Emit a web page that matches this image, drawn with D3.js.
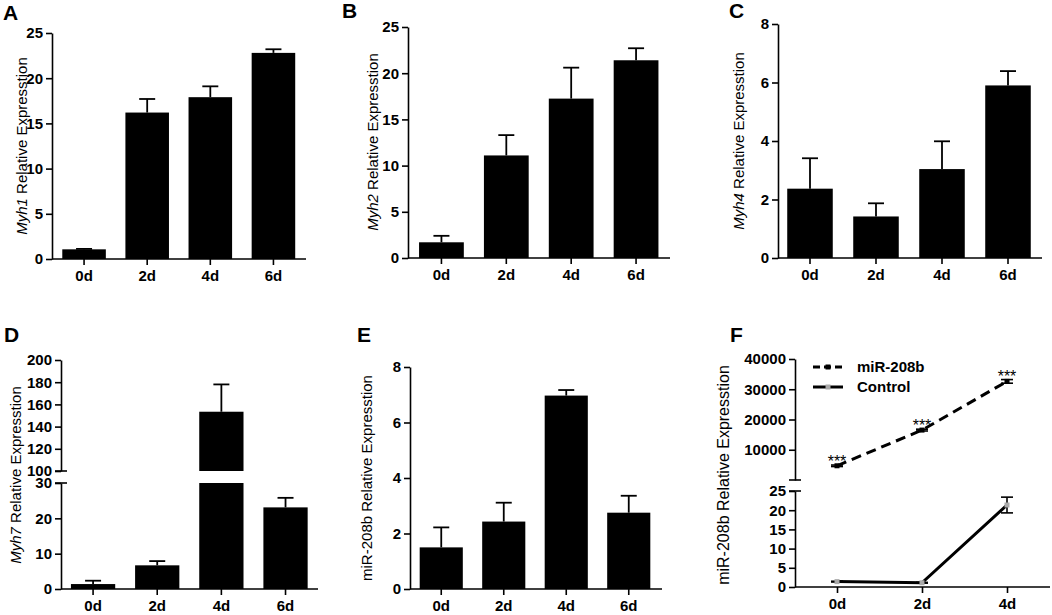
<!DOCTYPE html>
<html>
<head>
<meta charset="utf-8">
<script src="https://cdn.jsdelivr.net/npm/d3@7"></script>
<style>
body { margin: 0; background: #fff; }
svg { display: block; }
</style>
</head>
<body>
<svg id="chart" width="1052" height="615"></svg>
<script>
// categories
var days = ["0d", "2d", "4d", "6d"];
var daysF = ["0d", "2d", "4d"];

// panel values (mean, upper error)
var myh1Mean = [1.07, 16.2, 17.9, 22.8];
var myh1Err  = [0.05, 1.5, 1.2, 0.4];
var myh2Mean = [1.7, 11.1, 17.25, 21.4];
var myh2Err  = [0.7, 2.2, 3.35, 1.3];
var myh4Mean = [2.37, 1.42, 3.04, 5.9];
var myh4Err  = [1.04, 0.45, 0.95, 0.49];
var myh7Mean = [1.4, 6.7, 153.4, 23.1];
var myh7Err  = [0.95, 1.2, 24.6, 2.7];
var mirMean  = [1.5, 2.43, 6.97, 2.75];
var mirErr   = [0.72, 0.68, 0.2, 0.61];
var treatMean = [4700, 16500, 32600];
var treatErr  = [250, 300, 600];
var ctrlMean  = [1.4, 1.1, 21.35];
var ctrlErr   = [0.1, 0.1, 2.05];

// tick values
var ticks25 = [0, 5, 10, 15, 20, 25];
var ticks8 = [0, 2, 4, 6, 8];
var ticksDLow = [0, 10, 20, 30];
var ticksDHigh = [100, 120, 140, 160, 180, 200];
var ticksFLow = [0, 5, 10, 15, 20, 25];
var ticksFHigh = [10000, 20000, 30000, 40000];

var FONT = "'Liberation Sans', Arial, sans-serif";
var svg = d3.select("#chart").style("font-family", FONT);

function styleAxis(a) {
    a.attr("font-family", FONT);
    a.selectAll("text").style("font-size", "15px").style("font-weight", "bold")
        .style("font-family", FONT).attr("fill", "#000");
    a.selectAll("line, path").attr("stroke", "#000").attr("stroke-width", 1.6);
}

function letter(txt, x, y) {
    svg.append("text").attr("x", x).attr("y", y)
        .style("font-size", "21px").style("font-weight", "bold")
        .text(txt);
}

function yTitle(x, y, italic, rest, size, weight) {
    var t = svg.append("text")
        .attr("transform", "translate(" + x + "," + y + ") rotate(-90)")
        .attr("text-anchor", "middle")
        .attr("dy", "0.35em")
        .style("font-size", size + "px")
        .style("font-weight", weight || "normal");
    if (italic) t.append("tspan").style("font-style", "italic").text(italic);
    t.append("tspan").text(rest);
}

function breakStub(g, x, y) {
    g.append("line").attr("x1", x - 6).attr("x2", x + 6)
        .attr("y1", y).attr("y2", y)
        .attr("stroke", "#000").attr("stroke-width", 1.6);
}

function drawBars(p) {
    var g = svg.append("g");
    var x = d3.scaleBand().domain(p.cats).range(p.band)
        .paddingInner(0.31).paddingOuter(0.155);

    p.segments.forEach(function(s) {
        s.y = d3.scaleLinear().domain(s.domain).range(s.range);
        g.append("g").attr("transform", "translate(" + p.axisX + ",0)")
            .call(d3.axisLeft(s.y).tickValues(s.ticks).tickSize(6).tickSizeOuter(0).tickPadding(3))
            .call(styleAxis);
        if (s.stubs) s.stubs.forEach(function(v) { breakStub(g, p.axisX, s.y(v)); });
    });

    // bars, split across segments
    p.cats.forEach(function(c, i) {
        var m = p.means[i];
        p.segments.forEach(function(s) {
            var lo = s.domain[0], hi = s.domain[1];
            var top = Math.min(m, hi);
            if (top > lo) {
                g.append("rect")
                    .attr("x", x(c)).attr("width", x.bandwidth())
                    .attr("y", s.y(top)).attr("height", s.y(lo) - s.y(top))
                    .attr("fill", "#000");
            }
            if (m >= lo && m <= hi) {
                var cx = x(c) + x.bandwidth() / 2;
                var e = m + p.errs[i];
                g.append("line").attr("x1", cx).attr("x2", cx)
                    .attr("y1", s.y(m)).attr("y2", s.y(e))
                    .attr("stroke", "#000").attr("stroke-width", 1.8);
                g.append("line").attr("x1", cx - 8).attr("x2", cx + 8)
                    .attr("y1", s.y(e)).attr("y2", s.y(e))
                    .attr("stroke", "#000").attr("stroke-width", 1.8);
            }
        });
    });

    // x axis
    g.append("line").attr("x1", p.axisX).attr("x2", p.axisRight)
        .attr("y1", p.baseY).attr("y2", p.baseY)
        .attr("stroke", "#000").attr("stroke-width", 1.6);
    g.append("g").attr("transform", "translate(0," + p.baseY + ")")
        .call(d3.axisBottom(x).tickSize(6).tickPadding(5))
        .call(function(a) { a.select(".domain").remove(); })
        .call(styleAxis);
}

// A
drawBars({cats: days, means: myh1Mean, errs: myh1Err, axisX: 52, axisRight: 306, baseY: 259,
    band: [52.5, 305], segments: [{domain: [0, 25], range: [259, 33], ticks: ticks25}]});
letter("A", 3, 20);
yTitle(22, 146, "Myh1", " Relative Expresstion", 15);

// B
drawBars({cats: days, means: myh2Mean, errs: myh2Err, axisX: 408, axisRight: 670, baseY: 258,
    band: [409, 668.5], segments: [{domain: [0, 25], range: [258, 27], ticks: ticks25}]});
letter("B", 342, 18);
yTitle(373, 142, "Myh2", " Relative Expresstion", 15);

// C
drawBars({cats: days, means: myh4Mean, errs: myh4Err, axisX: 778, axisRight: 1042, baseY: 258,
    band: [777, 1041], segments: [{domain: [0, 8], range: [258, 24], ticks: ticks8}]});
letter("C", 729, 18);
yTitle(739, 141, "Myh4", " Relative Expresstion", 15);

// D (broken axis)
drawBars({cats: days, means: myh7Mean, errs: myh7Err, axisX: 61, axisRight: 318, baseY: 589,
    band: [61, 317.6], segments: [
        {domain: [0, 30], range: [589, 483], ticks: ticksDLow, stubs: [30]},
        {domain: [100, 200], range: [471, 360], ticks: ticksDHigh, stubs: [100]}
    ]});
letter("D", 4, 342);
yTitle(16, 475, "Myh7", " Relative Expresstion", 15);

// E
drawBars({cats: days, means: mirMean, errs: mirErr, axisX: 410, axisRight: 662, baseY: 589,
    band: [410, 660], segments: [{domain: [0, 8], range: [589, 367], ticks: ticks8}]});
letter("E", 357, 342);
yTitle(367, 478, null, "miR-208b Relative Expresstion", 15);

// F (line chart, broken axis)
(function() {
    var g = svg.append("g");
    var axisX = 795, baseY = 587;
    var x = d3.scalePoint().domain(daysF).range([837, 1007]);
    var yLow = d3.scaleLinear().domain([0, 25]).range([587, 491]);
    var yHigh = d3.scaleLinear().domain([0, 40000]).range([480, 359]);

    g.append("g").attr("transform", "translate(" + axisX + ",0)")
        .call(d3.axisLeft(yLow).tickValues(ticksFLow).tickSize(6).tickSizeOuter(0).tickPadding(3))
        .call(styleAxis);
    g.append("g").attr("transform", "translate(" + axisX + ",0)")
        .call(d3.axisLeft(yHigh).tickValues(ticksFHigh).tickFormat(d3.format("d"))
            .tickSize(6).tickSizeOuter(0).tickPadding(3))
        .call(styleAxis);
    breakStub(g, axisX, yLow(25));
    breakStub(g, axisX, yHigh(0));

    g.append("line").attr("x1", axisX).attr("x2", 1050)
        .attr("y1", baseY).attr("y2", baseY)
        .attr("stroke", "#000").attr("stroke-width", 1.6);
    g.append("g").attr("transform", "translate(0," + baseY + ")")
        .call(d3.axisBottom(x).tickSize(6).tickPadding(5))
        .call(function(a) { a.select(".domain").remove(); })
        .call(styleAxis);

    function series(means, errs, y, dash, markColor) {
        var pts = daysF.map(function(d, i) { return [x(d), means[i], errs[i]]; });
        g.append("path")
            .attr("d", d3.line().x(function(d) { return d[0]; }).y(function(d) { return y(d[1]); })(pts))
            .attr("fill", "none").attr("stroke", "#000").attr("stroke-width", 3)
            .attr("stroke-dasharray", dash);
        pts.forEach(function(d) {
            var t = y(d[1] + d[2]), b = y(d[1] - d[2]);
            g.append("line").attr("x1", d[0]).attr("x2", d[0]).attr("y1", t).attr("y2", b)
                .attr("stroke", "#000").attr("stroke-width", 1.6);
            [t, b].forEach(function(v) {
                g.append("line").attr("x1", d[0] - 6).attr("x2", d[0] + 6).attr("y1", v).attr("y2", v)
                    .attr("stroke", "#000").attr("stroke-width", 1.6);
            });
            g.append("rect").attr("x", d[0] - 2.5).attr("y", y(d[1]) - 2.5)
                .attr("width", 5).attr("height", 5).attr("fill", markColor);
        });
        return pts;
    }

    series(ctrlMean, ctrlErr, yLow, null, "#aaa");
    var tp = series(treatMean, treatErr, yHigh, "10,6", "#000");

    tp.forEach(function(d) {
        g.append("text").attr("x", d[0]).attr("y", yHigh(d[1] + d[2]) + 2)
            .attr("text-anchor", "middle")
            .style("font-size", "16px").attr("fill", "#000")
            .text("***");
    });

    // legend
    var lg = [{name: "miR-208b", dash: "7,4", mark: "#000", y: 367},
              {name: "Control", dash: null, mark: "#aaa", y: 387}];
    lg.forEach(function(l) {
        g.append("line").attr("x1", 813).attr("x2", 843).attr("y1", l.y).attr("y2", l.y)
            .attr("stroke", "#000").attr("stroke-width", 3).attr("stroke-dasharray", l.dash);
        g.append("rect").attr("x", 825.5).attr("y", l.y - 2.5).attr("width", 5).attr("height", 5)
            .attr("fill", l.mark);
        g.append("text").attr("x", 857).attr("y", l.y).attr("dy", "0.35em")
            .style("font-size", "15px").style("font-weight", "bold").text(l.name);
    });
})();
letter("F", 730, 342);
yTitle(723, 475, null, "miR-208b Relative Expresstion", 16);
</script>
</body>
</html>
